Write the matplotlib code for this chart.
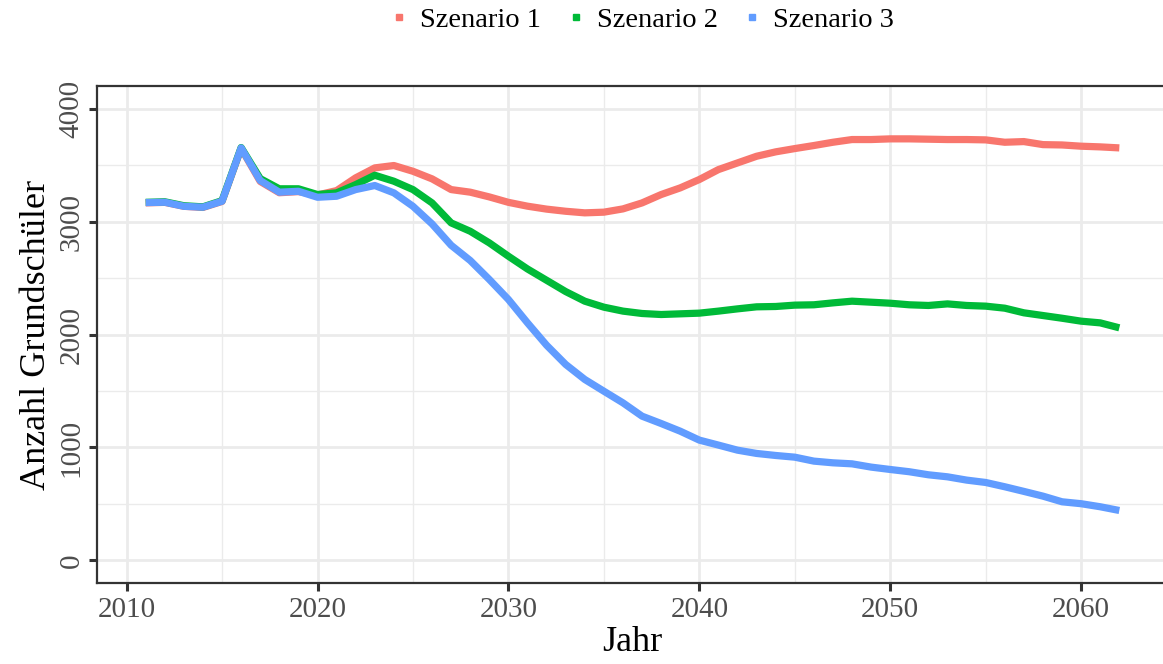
import matplotlib

matplotlib.use("Agg")
import matplotlib.pyplot as plt
from matplotlib.lines import Line2D
from matplotlib.ticker import MultipleLocator

plt.rcParams["font.family"] = ["Liberation Serif", "DejaVu Serif"]

YEARS = list(range(2011, 2063))

SZENARIO_1 = [3165, 3170, 3135, 3125, 3178, 3648, 3355, 3255, 3265, 3235,
              3274, 3387, 3475, 3496, 3445, 3378, 3283, 3260, 3218, 3170,
              3136, 3110, 3091, 3077, 3083, 3112, 3165, 3239, 3298, 3372,
              3460, 3519, 3578, 3617, 3646, 3673, 3702, 3726, 3726, 3732,
              3732, 3729, 3726, 3726, 3723, 3702, 3708, 3681, 3678, 3667,
              3661, 3652]
SZENARIO_2 = [3170, 3175, 3140, 3130, 3185, 3655, 3380, 3290, 3290, 3239,
              3254, 3327, 3410, 3357, 3283, 3165, 2988, 2914, 2811, 2693,
              2580, 2480, 2380, 2295, 2242, 2207, 2186, 2177, 2183, 2189,
              2207, 2227, 2245, 2248, 2260, 2263, 2280, 2295, 2286, 2277,
              2263, 2257, 2271, 2257, 2251, 2233, 2192, 2168, 2144, 2118,
              2103, 2059]
SZENARIO_3 = [3168, 3171, 3135, 3127, 3180, 3652, 3363, 3260, 3268, 3215,
              3224, 3283, 3319, 3254, 3135, 2979, 2790, 2655, 2487, 2310,
              2103, 1905, 1735, 1602, 1498, 1395, 1277, 1212, 1144, 1065,
              1021, 976, 947, 929, 914, 879, 864, 855, 826, 805,
              785, 758, 740, 711, 690, 652, 611, 569, 519, 502,
              475, 442]

SERIES = [("Szenario 1", SZENARIO_1, "#F8766D"),
          ("Szenario 2", SZENARIO_2, "#00BA38"),
          ("Szenario 3", SZENARIO_3, "#619CFF")]

fig = plt.figure(figsize=(11.63, 6.64), dpi=100)
ax = fig.add_axes([97 / 1163, 1 - 583 / 664, (1168 - 97) / 1163, (583 - 86) / 664])

for name, vals, color in SERIES:
    ax.plot(YEARS, vals, color=color, linewidth=5.2, solid_capstyle="butt",
            solid_joinstyle="round", label=name, zorder=3)

ax.set_xlim(2008.45, 2064.55)
ax.set_ylim(-200, 4200)
ax.xaxis.set_major_locator(MultipleLocator(10))
ax.xaxis.set_minor_locator(MultipleLocator(5))
ax.yaxis.set_major_locator(MultipleLocator(1000))
ax.yaxis.set_minor_locator(MultipleLocator(500))
ax.grid(which="major", color="#EBEBEB", linewidth=2.0, zorder=0)
ax.grid(which="minor", color="#EBEBEB", linewidth=1.0, zorder=0)
ax.set_axisbelow(True)

for side in ["left", "bottom", "top"]:
    ax.spines[side].set_color("#333333")
    ax.spines[side].set_linewidth(1.6)
ax.spines["right"].set_visible(False)

ax.tick_params(which="major", length=6, width=2.2, color="#333333",
               labelsize=21, labelcolor="#4D4D4D", pad=4)
ax.tick_params(which="minor", length=0)
ax.tick_params(axis="y", labelrotation=90, pad=3)
for lab in ax.get_yticklabels():
    lab.set_va("center")

ax.set_xlabel("Jahr", fontsize=26, labelpad=2)
ax.set_ylabel("Anzahl Grundschüler", fontsize=26, labelpad=4)

handles = [Line2D([], [], marker="s", linestyle="none", color=c, markersize=5)
           for _, _, c in SERIES]
fig.legend(handles, [n for n, _, _ in SERIES], loc="center",
           bbox_to_anchor=(641 / 1163, 1 - 20 / 664), ncol=3, frameon=False,
           fontsize=20.5, handletextpad=0.35, columnspacing=0.8, handlelength=0.8)

fig.savefig("out.png", dpi=100)
